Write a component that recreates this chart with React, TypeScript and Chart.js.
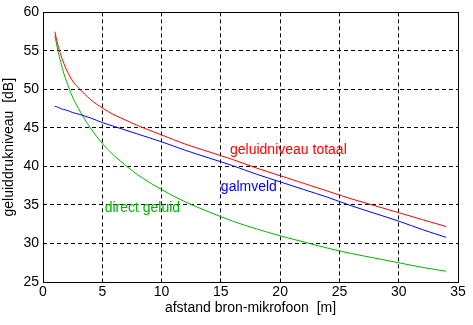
import React, { useEffect, useRef } from "react";
import { Chart, registerables } from "chart.js";

Chart.register(...registerables);

const distances = [1, 1.25, 1.5, 1.75, 2, 2.5, 3, 4, 5, 6, 7, 8, 10, 12, 14, 16, 18, 20, 22, 24, 26, 28, 30, 32, 34];
const totalLevel = [57.5, 55.8, 54.5, 53.4, 52.5, 51.1, 50.2, 48.7, 47.6, 46.7, 46.0, 45.3, 44.1, 42.9, 41.9, 40.9, 39.8, 38.8, 37.8, 36.8, 35.8, 34.9, 34.0, 33.1, 32.2];
const reverbLevel = [47.8, 47.7, 47.5, 47.4, 47.3, 47.0, 46.8, 46.3, 45.7, 45.2, 44.7, 44.2, 43.2, 42.1, 41.1, 40.1, 39.0, 38.0, 37.0, 36.0, 34.9, 33.9, 32.9, 31.8, 30.8];
const directLevel = [57.0, 55.1, 53.5, 52.1, 51.0, 49.0, 47.5, 45.0, 43.0, 41.4, 40.1, 38.9, 37.0, 35.4, 34.1, 32.9, 31.9, 31.0, 30.2, 29.4, 28.7, 28.1, 27.5, 26.9, 26.4];

const xTicks = [0, 5, 10, 15, 20, 25, 30, 35];
const yTicks = [25, 30, 35, 40, 45, 50, 55, 60];

const labelTexts = ["geluidniveau totaal", "galmveld", "direct geluid"];
const labelX = [15.77, 15.0, 5.2];
const labelY = [42.15, 37.3, 34.55];

const RED = "#ff0000";
const BLUE = "#0000ff";
const GREEN = "#00b400";
const labelColors = [RED, BLUE, GREEN];

const FONT = "'Liberation Sans', Arial, sans-serif";
const FS = 14;

export default function App() {
  const ref = useRef<HTMLCanvasElement | null>(null);

  useEffect(() => {
    document.body.style.margin = "0";
    const canvas = ref.current;
    if (!canvas) return;

    const mk = (ys: number[]) => distances.map((x, i) => ({ x, y: ys[i] }));

    const boxAndLabels = {
      id: "boxAndLabels",
      afterDatasetsDraw(chart: any) {
        const { ctx, chartArea, scales } = chart;
        ctx.save();
        ctx.setLineDash([]);
        ctx.strokeStyle = "#000";
        ctx.lineWidth = 1;
        const l = Math.round(chartArea.left) + 0.5;
        const t = Math.round(chartArea.top) + 0.5;
        const r = Math.round(chartArea.right) + 0.5;
        const b = Math.round(chartArea.bottom) + 0.5;
        ctx.strokeRect(l, t, r - l, b - t);
        ctx.font = `${FS}px ${FONT}`;
        ctx.textAlign = "left";
        ctx.textBaseline = "middle";
        labelTexts.forEach((txt, i) => {
          ctx.fillStyle = labelColors[i];
          ctx.fillText(txt, scales.x.getPixelForValue(labelX[i]), scales.y.getPixelForValue(labelY[i]));
        });
        ctx.restore();
      },
    };

    const chart = new Chart(canvas, {
      type: "line",
      data: {
        datasets: [
          { label: "totaal", data: mk(totalLevel), borderColor: RED, borderWidth: 1, pointRadius: 0, cubicInterpolationMode: "monotone" },
          { label: "galmveld", data: mk(reverbLevel), borderColor: BLUE, borderWidth: 1, pointRadius: 0, cubicInterpolationMode: "monotone" },
          { label: "direct", data: mk(directLevel), borderColor: GREEN, borderWidth: 1, pointRadius: 0, cubicInterpolationMode: "monotone" },
        ],
      },
      options: {
        animation: false,
        responsive: false,
        layout: { padding: { top: 7, right: 15, left: 0, bottom: 0 } },
        plugins: { legend: { display: false }, tooltip: { enabled: false } },
        scales: {
          x: {
            type: "linear",
            min: 0,
            max: 35,
            afterBuildTicks: (s: any) => { s.ticks = xTicks.map((v) => ({ value: v })); },
            afterFit: (s: any) => { s.height = 43; },
            grid: { color: "#000", lineWidth: 1, drawTicks: false },
            border: { display: false, dash: [4, 3] },
            ticks: { color: "#000", font: { family: FONT, size: FS }, padding: 2, maxRotation: 0 },
            title: { display: true, text: "afstand bron-mikrofoon  [m]", color: "#000", font: { family: FONT, size: FS }, padding: { top: 0, bottom: 8 } },
          },
          y: {
            type: "linear",
            min: 25,
            max: 60,
            afterBuildTicks: (s: any) => { s.ticks = yTicks.map((v) => ({ value: v })); },
            afterFit: (s: any) => { s.width = 43; },
            grid: { color: "#000", lineWidth: 1, drawTicks: false },
            border: { display: false, dash: [4, 3] },
            ticks: { color: "#000", font: { family: FONT, size: FS }, padding: 4 },
            title: { display: true, text: "geluiddrukniveau  [dB]", color: "#000", font: { family: FONT, size: FS }, padding: { top: 1, bottom: 0 } },
          },
        },
      },
      plugins: [boxAndLabels],
    });

    return () => chart.destroy();
  }, []);

  return (
    <div style={{ position: "relative", width: 473, height: 325, background: "#fff" }}>
      <canvas ref={ref} width={473} height={325} style={{ display: "block" }} />
    </div>
  );
}
